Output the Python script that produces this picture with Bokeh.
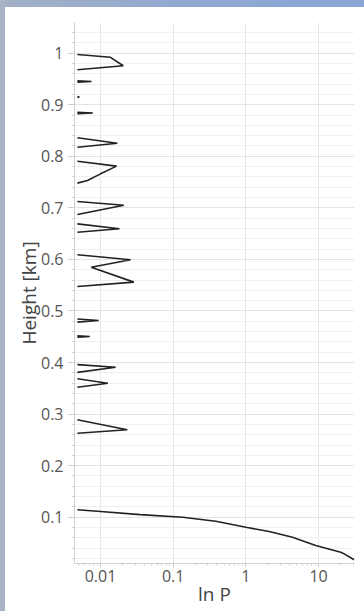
import math
from bokeh.plotting import figure
from bokeh.models import FixedTicker, Range1d, GlobalInlineStyleSheet
from bokeh.embed import file_html
from bokeh.resources import INLINE

NaN = float("nan")
E = 0.0048  # values at the left edge of the plot (near-zero pressure)

# Profile: ln P versus height (km); NaN separates the disconnected segments
height_km = [
    0.9975, 0.992, 0.9756, 0.968, NaN,
    0.9465, 0.945, 0.9435, NaN,
    0.916, 0.915, 0.914, NaN,
    0.8855, 0.884, 0.8825, NaN,
    0.836, 0.8254, 0.8177, NaN,
    0.7905, 0.781, 0.766, 0.753, 0.748, NaN,
    0.7124, 0.7052, 0.687, NaN,
    0.669, 0.6594, 0.6528, NaN,
    0.609, 0.5993, 0.585, 0.556, 0.5475, NaN,
    0.4845, 0.4816, 0.4785, NaN,
    0.452, 0.4505, 0.449, NaN,
    0.396, 0.391, 0.381, NaN,
    0.3685, 0.36, 0.352, NaN,
    0.289, 0.2696, 0.263, NaN,
    0.1144, 0.111, 0.105, 0.1001, 0.0923, 0.0807, 0.0723, 0.0613, 0.0452, 0.0322, 0.029, 0.0175,
]
ln_p = [
    E, 0.0137, 0.0205, E, NaN,
    E, 0.0075, E, NaN,
    E, 0.0051, E, NaN,
    E, 0.0078, E, NaN,
    E, 0.0170, E, NaN,
    E, 0.0166, 0.0100, 0.0066, E, NaN,
    E, 0.0209, E, NaN,
    E, 0.0182, E, NaN,
    E, 0.0259, 0.00744, 0.0287, E, NaN,
    E, 0.0094, E, NaN,
    E, 0.0071, E, NaN,
    E, 0.0161, E, NaN,
    E, 0.0126, E, NaN,
    E, 0.0233, E, NaN,
    E, 0.010, 0.035, 0.135, 0.385, 1.0, 2.09, 4.37, 9.14, 20.2, 22.5, 30.9,
]

x_ticks = [0.01, 0.1, 1, 10]
x_tick_labels = ["0.01", "0.1", "1", "10"]
x_minor = [m * 10.0 ** d for d in range(-3, 2) for m in range(2, 10)]
y_ticks = [0.1, 0.2, 0.3, 0.4, 0.5, 0.6, 0.7, 0.8, 0.9, 1.0]
y_tick_labels = ["0.1", "0.2", "0.3", "0.4", "0.5", "0.6", "0.7", "0.8", "0.9", "1"]
y_minor = [round(0.02 * i, 2) for i in range(1, 53)]

bg_css = GlobalInlineStyleSheet(css="""
html, body {
  margin: 0;
  padding: 0;
  overflow: hidden;
  background:
    linear-gradient(to right, #a8b3c6 0px, #a8b3c6 5px, rgba(0,0,0,0) 5px),
    linear-gradient(to right, #a3b0c6 0%, #8ea8d2 60%, #8aa6d6 100%) top / 100% 7px no-repeat,
    #ffffff;
}
""")

p = figure(
    width=364, height=611,
    x_axis_type="log",
    x_range=Range1d(0.00438, 31.2),
    y_range=Range1d(0.0103, 1.0595),
    output_backend="svg", toolbar_location=None,
    min_border_left=74, min_border_right=10, min_border_top=22, min_border_bottom=48,
)
p.stylesheets = [bg_css]
p.outline_line_color = None
p.background_fill_color = "white"
p.border_fill_color = None

p.line(ln_p, height_km, line_color="#222222", line_width=1.6)

font = "Open Sans"
# x axis
xa = p.xaxis[0]
xa.ticker = FixedTicker(ticks=x_ticks, minor_ticks=x_minor)
xa.major_label_overrides = {t: l for t, l in zip(x_ticks, x_tick_labels)}
xa.axis_label = "ln P"
# y axis
ya = p.yaxis[0]
ya.ticker = FixedTicker(ticks=y_ticks, minor_ticks=y_minor)
ya.major_label_overrides = {t: l for t, l in zip(y_ticks, y_tick_labels)}
ya.axis_label = "Height [km]"

for ax in (xa, ya):
    ax.axis_line_color = "#d0d0d0"
    ax.major_tick_line_color = "#c8c8c8"
    ax.minor_tick_line_color = "#d0d0d0"
    ax.major_tick_in = 0
    ax.minor_tick_in = 0
    ax.major_label_text_font = font
    ax.major_label_text_font_size = "16px"
    ax.major_label_text_color = "#555555"
    ax.axis_label_text_font = font
    ax.axis_label_text_font_size = "19px"
    ax.axis_label_text_font_style = "normal"
    ax.axis_label_text_color = "#444444"

xa.major_tick_out = 4
xa.minor_tick_out = 2
xa.major_label_standoff = 2
xa.axis_label_standoff = -4
ya.major_tick_out = 6
ya.minor_tick_out = 3
ya.major_label_standoff = 5
ya.axis_label_standoff = -4

p.xgrid.grid_line_color = "#e6e6e6"
p.xgrid.minor_grid_line_color = None
p.ygrid.grid_line_color = "#e4e4e4"
p.ygrid.minor_grid_line_color = "#f0f0f0"

open("out.html", "w").write(file_html(p, INLINE))
